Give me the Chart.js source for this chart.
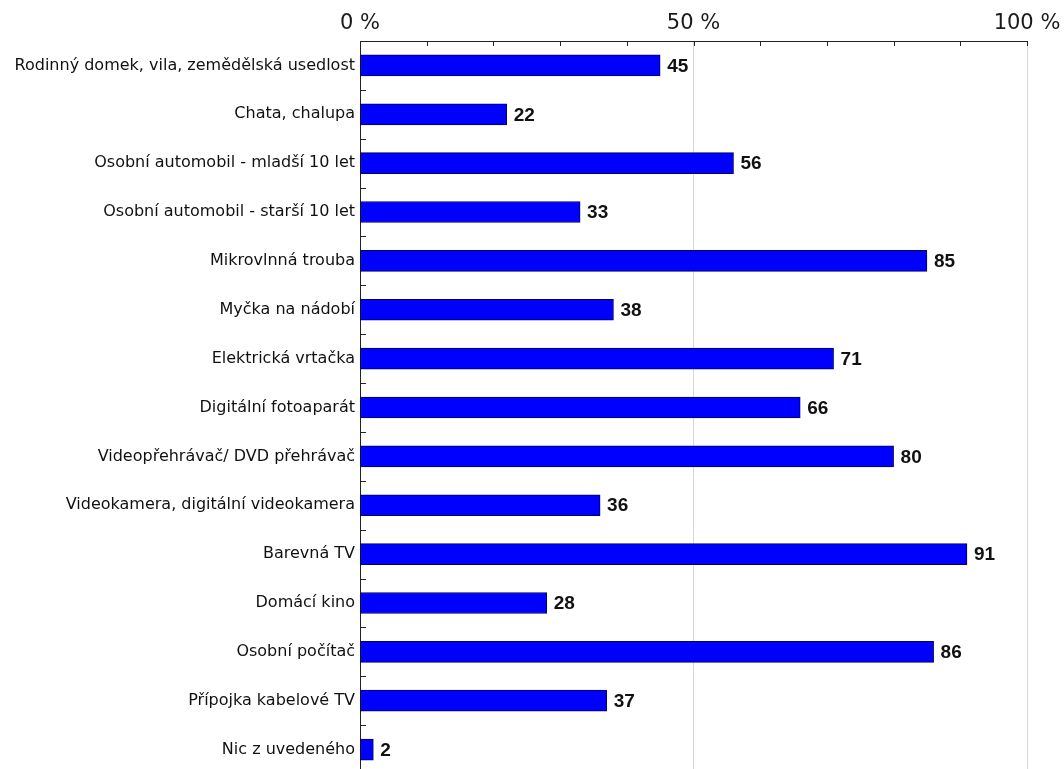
<!DOCTYPE html>
<html>
<head>
<meta charset="utf-8">
<script src="https://cdn.jsdelivr.net/npm/chart.js@4"></script>
<style>
  body { margin: 0; background: #fff; overflow: hidden; }
  #wrap { width: 1064px; height: 769px; overflow: hidden; }
</style>
</head>
<body>
<div id="wrap"><canvas id="chart" width="1064" height="774"></canvas></div>
<script>
const categories = [
  'Rodinný domek, vila, zemědělská usedlost',
  'Chata, chalupa',
  'Osobní automobil - mladší 10 let',
  'Osobní automobil - starší 10 let',
  'Mikrovlnná trouba',
  'Myčka na nádobí',
  'Elektrická vrtačka',
  'Digitální fotoaparát',
  'Videopřehrávač/ DVD přehrávač',
  'Videokamera, digitální videokamera',
  'Barevná TV',
  'Domácí kino',
  'Osobní počítač',
  'Přípojka kabelové TV',
  'Nic z uvedeného'
];
const values = [45, 22, 56, 33, 85, 38, 71, 66, 80, 36, 91, 28, 86, 37, 2];
const tickLabels = { 0: '0 %', 50: '50 %', 100: '100 %' };
const gridValues = [50, 100];

// value labels + inner tick marks
const extras = {
  id: 'extras',
  afterDatasetsDraw(chart) {
    const ctx = chart.ctx;
    const meta = chart.getDatasetMeta(0);
    ctx.save();
    ctx.fillStyle = '#111';
    ctx.font = 'bold 19px "Liberation Sans", Arial, sans-serif';
    ctx.textBaseline = 'middle';
    meta.data.forEach((bar, i) => {
      ctx.fillText(String(values[i]), bar.x + 7, bar.y + 1);
    });
    // top axis minor ticks pointing down
    const x = chart.scales.x, y = chart.scales.y;
    const top = chart.chartArea.top;
    ctx.strokeStyle = '#222';
    ctx.lineWidth = 1;
    for (let v = 0; v <= 100; v += 10) {
      const px = Math.round(x.getPixelForValue(v)) + 0.5;
      ctx.beginPath();
      ctx.moveTo(px, top);
      ctx.lineTo(px, top + 5);
      ctx.stroke();
    }
    // left axis ticks between categories pointing right
    const left = chart.chartArea.left;
    const step = y.getPixelForValue(1) - y.getPixelForValue(0);
    for (let i = 0; i < categories.length; i++) {
      const py = Math.round(y.getPixelForValue(i) + step / 2) + 0.5;
      ctx.beginPath();
      ctx.moveTo(left, py);
      ctx.lineTo(left + 6, py);
      ctx.stroke();
    }
    ctx.restore();
  }
};

new Chart(document.getElementById('chart'), {
  type: 'bar',
  data: {
    labels: categories,
    datasets: [{
      data: values,
      backgroundColor: '#0000ff',
      borderColor: '#00005a',
      borderWidth: 1,
      borderSkipped: false,
      barThickness: 21
    }]
  },
  options: {
    indexAxis: 'y',
    responsive: false,
    animation: false,
    layout: { padding: { top: 0, right: 37, bottom: 0, left: 0 } },
    plugins: { legend: { display: false }, tooltip: { enabled: false } },
    scales: {
      x: {
        position: 'top',
        min: 0,
        max: 100,
        afterFit(s) { s.height = 41; s.paddingLeft = 0; s.paddingRight = 0; },
        ticks: {
          stepSize: 10,
          autoSkip: false,
          maxRotation: 0,
          padding: 5,
          color: '#1a1a1a',
          font: { family: '"DejaVu Sans", Verdana, sans-serif', size: 21 },
          callback: v => tickLabels[v] || ''
        },
        grid: {
          drawTicks: false,
          color: c => gridValues.includes(c.tick && c.tick.value) ? '#d8d8d8' : 'rgba(0,0,0,0)'
        },
        border: { display: true, color: '#222', width: 1 }
      },
      y: {
        afterFit(s) { s.width = 360; s.paddingTop = 0; s.paddingBottom = 0; },
        ticks: {
          color: '#111',
          padding: 5,
          font: { family: '"DejaVu Sans", Verdana, sans-serif', size: 16 }
        },
        grid: { display: false, drawTicks: false },
        border: { display: true, color: '#222', width: 1 }
      }
    }
  },
  plugins: [extras]
});
</script>
</body>
</html>
